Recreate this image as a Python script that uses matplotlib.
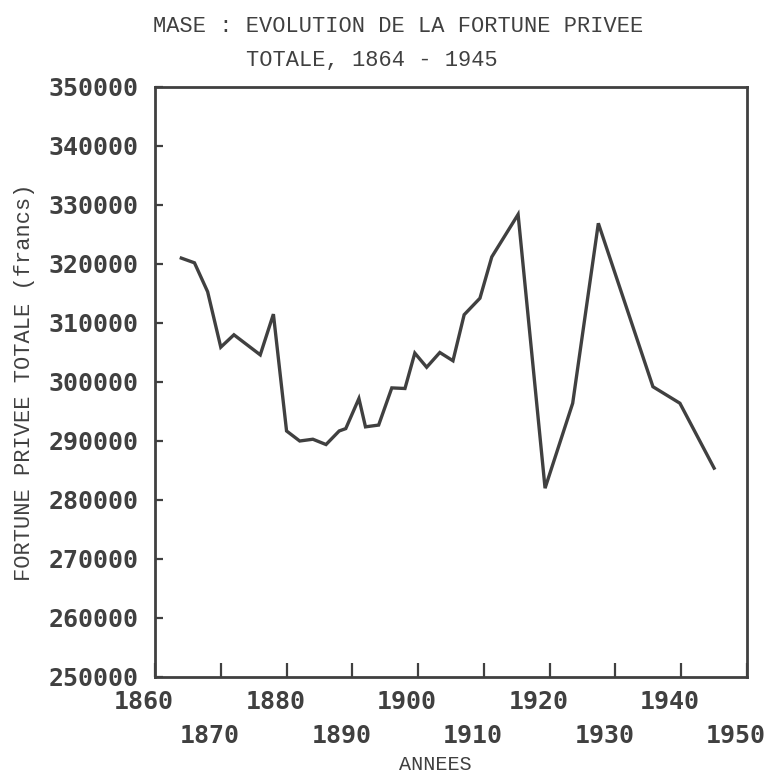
import matplotlib

matplotlib.use("Agg")
import matplotlib.pyplot as plt

# Values (francs, by year)
years = [1864, 1866, 1868, 1870, 1872, 1876, 1878, 1880, 1882, 1884, 1886,
         1888, 1889, 1891, 1892, 1894, 1896, 1898, 1899.5, 1901.3, 1903.3,
         1905.3, 1907, 1909.4, 1911.2, 1915.2, 1919.3, 1923.5, 1927.4,
         1935.7, 1939.8, 1945]
fortune = [321000, 320200, 315300, 305900, 308000, 304600, 311500, 291700,
           290000, 290300, 289400, 291700, 292100, 297200, 292400, 292700,
           299000, 298900, 304900, 302500, 305000, 303600, 311400, 314200,
           321200, 328400, 282000, 296400, 326900, 299200, 296400, 285400]

x_ticks = list(range(1860, 1951, 10))
y_ticks = list(range(250000, 350001, 10000))

INK = "#404040"
MONO = "Liberation Mono"
BOLD_MONO = "DejaVu Sans Mono"

fig = plt.figure(figsize=(7.72, 7.76), dpi=100)
ax = fig.add_axes([155 / 772, 1 - 677 / 776, 592 / 772, 590 / 776])

ax.plot(years, fortune, color=INK, linewidth=2.4, solid_joinstyle="miter")

ax.set_xlim(1860, 1950)
ax.set_ylim(250000, 350000)
for side in ax.spines.values():
    side.set_color(INK)
    side.set_linewidth(2.0)

ax.set_yticks(y_ticks)
ax.set_yticklabels([str(v) for v in y_ticks], fontfamily=BOLD_MONO,
                   fontweight="bold", fontsize=18, color=INK)
ax.tick_params(axis="y", direction="in", length=6, width=1.6, color=INK, pad=12)

# x labels are staggered on two rows and sit a little left of their ticks
ax.set_xticks(x_ticks)
ax.set_xticklabels([])
ax.tick_params(axis="x", direction="in", length=10, width=1.6, color=INK)
for i, yr in enumerate(x_ticks):
    row_y = -25 if i % 2 == 0 else -59
    ax.annotate(str(yr), xy=(yr, 0), xycoords=("data", "axes fraction"),
                xytext=(-11, row_y), textcoords="offset pixels",
                ha="center", va="center", fontfamily=BOLD_MONO,
                fontweight="bold", fontsize=18, color=INK,
                annotation_clip=False)

fig.text(398 / 772, 1 - 27 / 776, "MASE : EVOLUTION DE LA FORTUNE PRIVEE",
         ha="center", va="center", fontfamily=MONO, fontsize=15.8, color=INK)
fig.text(372 / 772, 1 - 60 / 776, "TOTALE, 1864 - 1945",
         ha="center", va="center", fontfamily=MONO, fontsize=15.8, color=INK)
fig.text(25 / 772, 1 - 382 / 776, "FORTUNE PRIVEE TOTALE (francs)",
         rotation=90, ha="center", va="center", fontfamily=MONO,
         fontsize=15.8, color=INK)
fig.text(435 / 772, 1 - 765 / 776, "ANNEES", ha="center", va="center",
         fontfamily=MONO, fontsize=14.5, color=INK)

fig.savefig("out.png", dpi=100)
plt.close(fig)
